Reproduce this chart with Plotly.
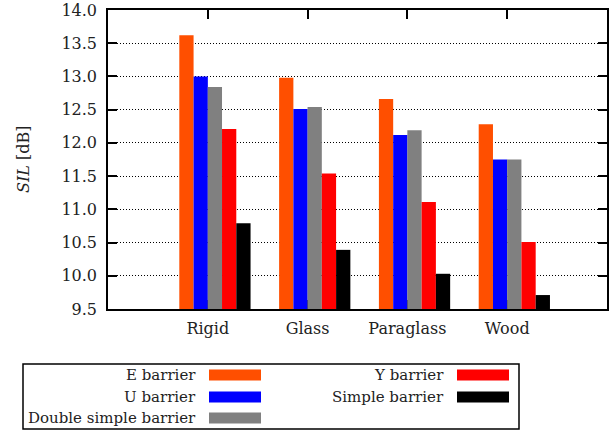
import plotly.graph_objects as go

# Sound insertion loss per barrier type, grouped by barrier material
materials = ["Rigid", "Glass", "Paraglass", "Wood"]
series_names = ["E barrier", "U barrier", "Double simple barrier", "Y barrier", "Simple barrier"]
e_barrier = [13.62, 12.98, 12.66, 12.28]
u_barrier = [13.00, 12.51, 12.12, 11.75]
double_simple = [12.84, 12.54, 12.19, 11.75]
y_barrier = [12.21, 11.54, 11.11, 10.51]
simple_barrier = [10.79, 10.39, 10.03, 9.71]
y_ticks = [9.5, 10.0, 10.5, 11.0, 11.5, 12.0, 12.5, 13.0, 13.5, 14.0]

series_values = [e_barrier, u_barrier, double_simple, y_barrier, simple_barrier]
colors = ["#ff4f00", "#0000ff", "#808080", "#ff0000", "#000000"]

W, H = 612, 432
ML, MR, MT, MB = 108, 5, 10, 123
PW, PH = W - ML - MR, H - MT - MB
FONT = "DejaVu Serif"

bar_w = 0.143
offsets = [-0.214, -0.071, 0.071, 0.214, 0.357]

fig = go.Figure()
for name, vals, col, off in zip(series_names, series_values, colors, offsets):
    fig.add_trace(go.Bar(
        x=[i + 1 + off for i in range(len(materials))],
        y=[v - 9.5 for v in vals],
        base=9.5,
        width=bar_w,
        name=name,
        marker=dict(color=col, line=dict(width=0)),
        showlegend=False,
    ))


def px(x):
    return (x - ML) / PW


def py(y):
    return (MT + PH - y) / PH


shapes = []
annotations = []

# Legend frame and entries (text right-aligned, colour swatch to the right)
shapes.append(dict(type="rect", xref="paper", yref="paper",
                   x0=px(23), x1=px(519), y0=py(429), y1=py(364),
                   line=dict(color="black", width=1.5), fillcolor="white"))
legend_slots = [(198, 209, 375), (198, 209, 397), (198, 209, 418),
                (446, 457, 375), (446, 457, 397)]
for k, (tx, sx, cy) in enumerate(legend_slots):
    annotations.append(dict(xref="paper", yref="paper", x=px(tx), y=py(cy),
                            xanchor="right", yanchor="middle", showarrow=False,
                            text=series_names[k],
                            font=dict(family=FONT, size=15, color="#222")))
    shapes.append(dict(type="rect", xref="paper", yref="paper",
                       x0=px(sx), x1=px(sx + 52), y0=py(cy + 5.5), y1=py(cy - 5.5),
                       line=dict(width=0), fillcolor=colors[k]))

# Y axis title
annotations.append(dict(xref="paper", yref="paper", x=px(23), y=py(160),
                        xanchor="center", yanchor="middle", showarrow=False,
                        textangle=-90, text="<i>SIL</i> [dB]",
                        font=dict(family=FONT, size=16, color="#222")))

fig.update_layout(
    width=W, height=H, autosize=False,
    margin=dict(l=ML, r=MR, t=MT, b=MB, autoexpand=False),
    paper_bgcolor="white", plot_bgcolor="white",
    barmode="overlay",
    shapes=shapes, annotations=annotations,
    font=dict(family=FONT, size=16, color="#222"),
    xaxis=dict(range=[0, 5], tickvals=[1, 2, 3, 4], ticktext=materials,
               ticks="inside", ticklen=9, tickcolor="black", tickwidth=1.5,
               showline=True, linecolor="black", linewidth=1.5, mirror="ticks",
               showgrid=False, zeroline=False, layer="below traces",
               automargin=False, ticklabelstandoff=4,
               tickfont=dict(family=FONT, size=16, color="#222")),
    yaxis=dict(range=[9.5, 14.0], tickvals=y_ticks, tickformat=".1f",
               ticks="inside", ticklen=9, tickcolor="black", tickwidth=1.5,
               showline=True, linecolor="black", linewidth=1.5, mirror="ticks",
               showgrid=True, gridcolor="black", gridwidth=1, griddash="1px,2px",
               zeroline=False, layer="below traces", ticklabelstandoff=6,
               automargin=False,
               tickfont=dict(family=FONT, size=16, color="#222")),
)

fig.write_html("out.html")
